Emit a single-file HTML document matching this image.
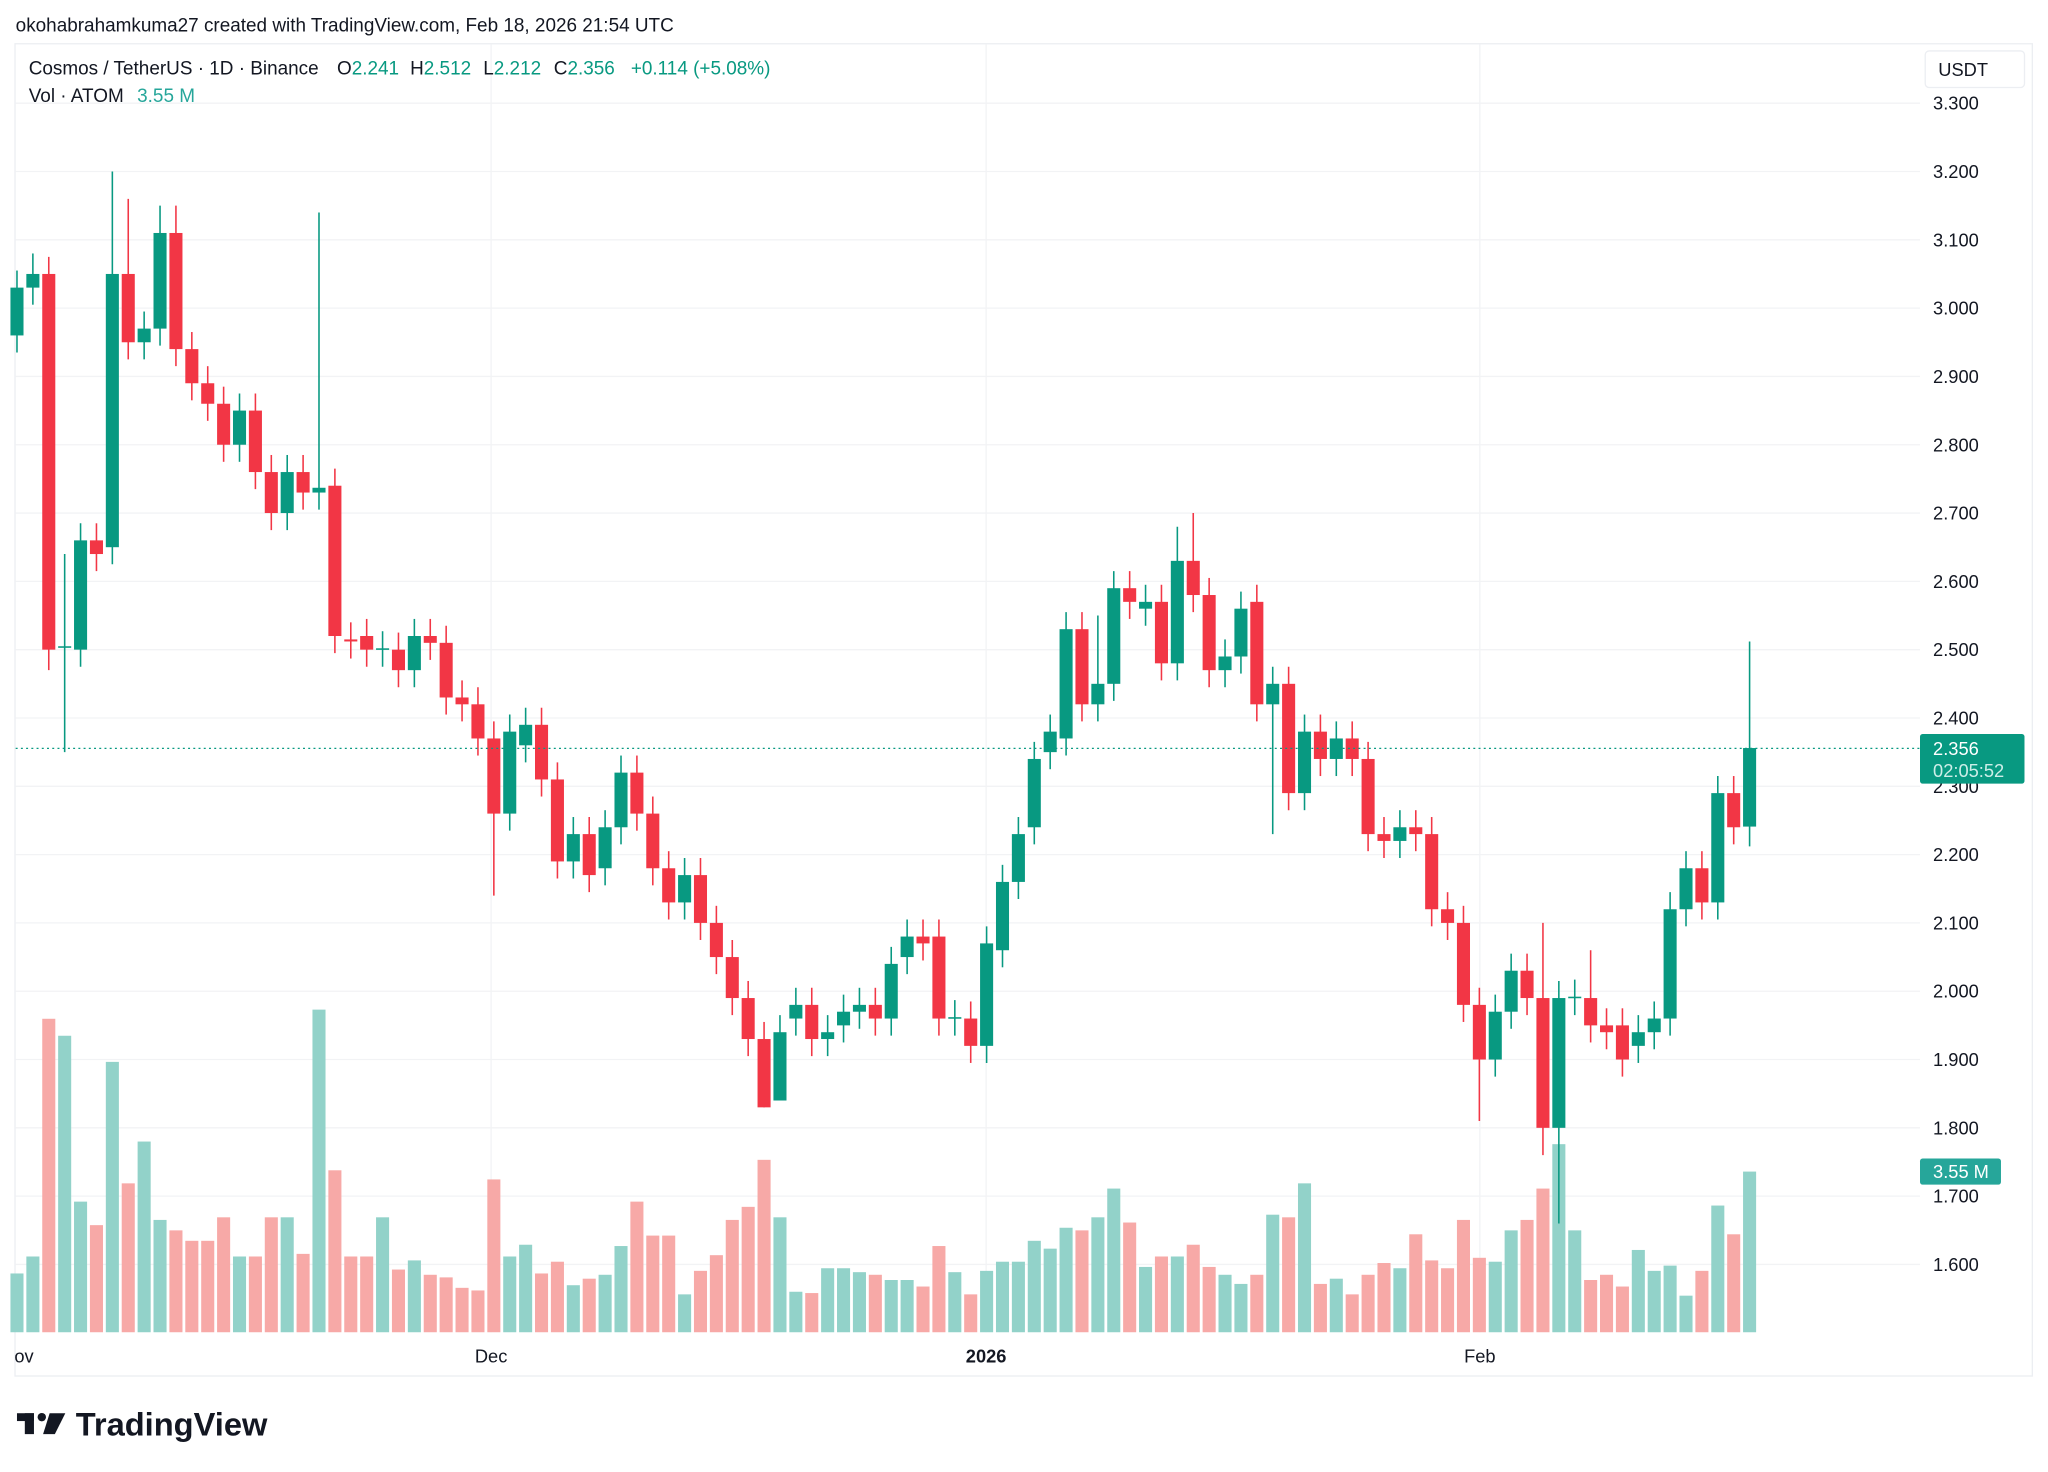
<!DOCTYPE html>
<html><head><meta charset="utf-8"><style>
html,body{margin:0;padding:0;background:#fff;width:2048px;height:1472px;overflow:hidden}
svg{display:block;font-family:"Liberation Sans",sans-serif}
</style></head><body>
<svg id="s" width="2048" height="1472" viewBox="0 0 1568 1127" preserveAspectRatio="none" xmlns="http://www.w3.org/2000/svg">
<rect x="0" y="0" width="1568" height="1127" fill="#fff"/>
<text x="12" y="24" font-size="14.5" fill="#131722">okohabrahamkuma27 created with TradingView.com, Feb 18, 2026 21:54 UTC</text>
<rect x="11.5" y="33.5" width="1544.5" height="1020" fill="none" stroke="#eceef2" stroke-width="1"/>
<g id="grid"></g>
<g id="vol"></g>
<g id="cdl"></g>
<line x1="12" y1="573" x2="1470" y2="573" stroke="#089981" stroke-width="1" stroke-dasharray="1.5,2.5"/>
<g id="axis" font-size="14" fill="#131722"></g>
<rect x="1474" y="39" width="76" height="28" rx="3" fill="#fff" stroke="#eceef2"/>
<text x="1484" y="58" font-size="14" fill="#131722">USDT</text>
<rect x="1470" y="562" width="80" height="38" rx="2" fill="#089981"/>
<text x="1480" y="578" font-size="14" fill="#fff">2.356</text>
<text x="1480" y="595" font-size="14" fill="#cdeee8">02:05:52</text>
<rect x="1470" y="887" width="62" height="20" rx="2" fill="#26a69a"/>
<text x="1480" y="902" font-size="14" fill="#fff">3.55 M</text>
<g font-size="14.5">
<text x="22" y="57" fill="#131722">Cosmos / TetherUS · 1D · Binance</text>
<text x="258" y="57" fill="#131722">O<tspan fill="#089981">2.241</tspan></text>
<text x="314" y="57" fill="#131722">H<tspan fill="#089981">2.512</tspan></text>
<text x="370" y="57" fill="#131722">L<tspan fill="#089981">2.212</tspan></text>
<text x="424" y="57" fill="#131722">C<tspan fill="#089981">2.356</tspan></text>
<text x="483" y="57" fill="#089981">+0.114 (+5.08%)</text>
<text x="22" y="78" fill="#131722">Vol · ATOM</text>
<text x="105" y="78" fill="#26a69a">3.55 M</text>
</g>
<text x="11" y="1043" font-size="14" fill="#131722">ov</text>
<text x="376" y="1043" font-size="14" fill="#131722" text-anchor="middle">Dec</text>
<text x="755" y="1043" font-size="14" fill="#131722" text-anchor="middle" font-weight="bold">2026</text>
<text x="1133" y="1043" font-size="14" fill="#131722" text-anchor="middle">Feb</text>
<g fill="#131722"><rect x="13" y="1082" width="13" height="6"/><rect x="19" y="1082" width="7" height="16"/><circle cx="32" cy="1085" r="3.2"/><polygon points="38,1082 50,1082 42,1098 33,1098"/></g>
<text x="58" y="1099" font-size="25" font-weight="bold" fill="#131722">TradingView</text>
</svg>
<script>
var NS="http://www.w3.org/2000/svg";
function el(p,t,a,txt){var e=document.createElementNS(NS,t);for(var k in a)e.setAttribute(k,a[k]);if(txt)e.textContent=txt;document.getElementById(p).appendChild(e);}
function Y(p){return 79+(3.3-p)*523;}
for(var i=0;i<=17;i++){var p=3.3-i*0.1;var y=Y(p);el('grid','line',{x1:12,x2:1470,y1:y,y2:y,stroke:'#f2f3f5'});if(p>1.55)el('axis','text',{x:1480,y:y+5},p.toFixed(3));}
[376,755,1133].forEach(function(x){el('grid','line',{x1:x,x2:x,y1:34,y2:1020,stroke:'#f2f3f5'});});
var C=[[2.96,3.03],[3.03,3.05],[3.05,2.50],[2.505,2.505],[2.50,2.66],[2.66,2.64],[2.65,3.05],[3.05,2.95],[2.95,2.97],[2.97,3.11],[3.11,2.94],[2.94,2.89],[2.89,2.86],[2.86,2.80],[2.80,2.85],[2.85,2.76],[2.76,2.70],[2.70,2.76],[2.76,2.73],[2.73,2.737],[2.74,2.52],[2.515,2.512],[2.52,2.50],[2.50,2.502],[2.50,2.47],[2.47,2.52],[2.52,2.51],[2.51,2.43],[2.43,2.42],[2.42,2.37],[2.37,2.26],[2.26,2.38],[2.36,2.39],[2.39,2.31],[2.31,2.19],[2.19,2.23],[2.23,2.17],[2.18,2.24],[2.24,2.32],[2.32,2.26],[2.26,2.18],[2.18,2.13],[2.13,2.17],[2.17,2.10],[2.10,2.05],[2.05,1.99],[1.99,1.93],[1.93,1.83],[1.84,1.94],[1.96,1.98],[1.98,1.93],[1.93,1.94],[1.95,1.97],[1.97,1.98],[1.98,1.96],[1.96,2.04],[2.05,2.08],[2.08,2.07],[2.08,1.96],[1.96,1.962],[1.96,1.92],[1.92,2.07],[2.06,2.16],[2.16,2.23],[2.24,2.34],[2.35,2.38],[2.37,2.53],[2.53,2.42],[2.42,2.45],[2.45,2.59],[2.59,2.57],[2.56,2.57],[2.57,2.48],[2.48,2.63],[2.63,2.58],[2.58,2.47],[2.47,2.49],[2.49,2.56],[2.57,2.42],[2.42,2.45],[2.45,2.29],[2.29,2.38],[2.38,2.34],[2.34,2.37],[2.37,2.34],[2.34,2.23],[2.23,2.22],[2.22,2.24],[2.24,2.23],[2.23,2.12],[2.12,2.10],[2.10,1.98],[1.98,1.90],[1.90,1.97],[1.97,2.03],[2.03,1.99],[1.99,1.80],[1.80,1.99],[1.99,1.992],[1.99,1.95],[1.95,1.94],[1.95,1.90],[1.92,1.94],[1.94,1.96],[1.96,2.12],[2.12,2.18],[2.18,2.13],[2.13,2.29],[2.29,2.24],[2.241,2.356]];
var V=[975,962,780,793,920,938,813,906,874,934,942,950,950,932,962,962,932,932,960,773,896,962,962,932,972,965,976,978,986,988,903,962,953,975,966,984,979,976,954,920,946,946,991,973,961,934,924,888,932,989,990,971,971,974,976,980,980,985,954,974,991,973,966,966,950,956,940,942,932,910,936,970,962,962,953,970,976,983,976,930,932,906,983,979,991,976,967,971,945,965,971,934,963,966,942,934,910,876,942,980,976,985,957,973,969,992,973,923,945,897];
var HO={6:3.20,7:3.16,19:3.14,9:3.15,10:3.15,68:2.55,73:2.68,74:2.70,99:2.06,109:2.512,3:2.64,1:3.08,96:2.10};
var LO={3:2.35,2:2.47,30:2.14,79:2.23,92:1.81,96:1.76,97:1.66,109:2.212,48:1.85,47:1.83};
for(var i=0;i<C.length;i++){var x=13+i*12.17;var o=C[i][0],c=C[i][1];var up=c>=o;
var col=up?'#089981':'#F23645';var vc=up?'#92d2c9':'#f7a9a7';
el('vol','rect',{x:x-5,y:V[i],width:10,height:1020-V[i],fill:vc});
var hi=HO[i]||Math.max(o,c)+0.025,lo=LO[i]||Math.min(o,c)-0.025;
el('cdl','line',{x1:x,x2:x,y1:Y(hi),y2:Y(lo),stroke:col,'stroke-width':1.2});
var t=Y(Math.max(o,c)),b=Y(Math.min(o,c));
el('cdl','rect',{x:x-5,y:t,width:10,height:Math.max(1.2,b-t),fill:col});}
</script>
</body></html>
